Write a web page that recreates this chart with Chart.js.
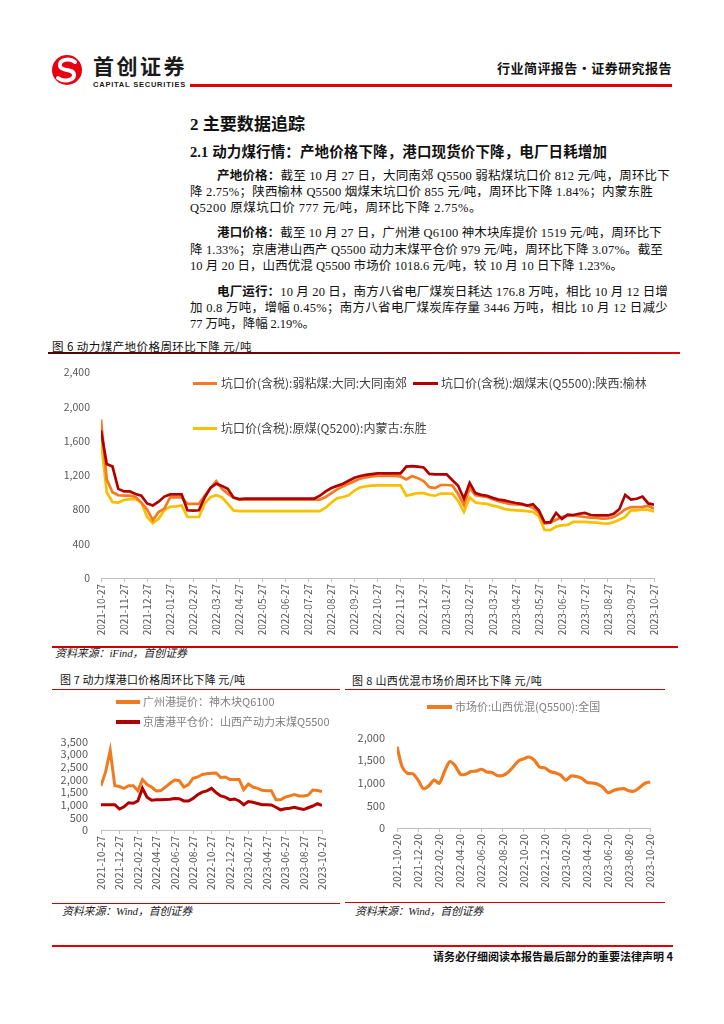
<!DOCTYPE html>
<html>
<head>
<meta charset="utf-8">
<script src="https://cdn.jsdelivr.net/npm/chart.js@4.4.0/dist/chart.umd.min.js"></script>
<style>
  html, body { margin: 0; padding: 0; background: #fff; }
  #page { position: relative; width: 724px; height: 1024px; overflow: hidden;
          font-family: "Liberation Serif", "Noto Sans CJK SC", serif; color: #111; }
  .t { position: absolute; white-space: nowrap; }
  .body { font-size: 12.5px; line-height: 16px; }
  .rule { position: absolute; }
  canvas { position: absolute; }
  .leg { position: absolute; white-space: nowrap; font-family: "Noto Sans CJK SC", sans-serif; }
  .mk { position: absolute; }
  .cap { font-family: "Noto Sans CJK SC", sans-serif; font-size: 11.5px; line-height: 14px; color: #111; }
  .src { font-style: italic; font-size: 11px; line-height: 14px; color: #222; }
</style>
</head>
<body>
<div id="page">

  <!-- header -->
  <svg class="t" style="left:50px;top:54px" width="36" height="32" viewBox="0 0 36 32">
    <circle cx="17" cy="16" r="15" fill="#E60012"/>
    <path d="M25 8 C20 4 9 5 10 12 C11 18 24 14 24 21 C24 27 13 28 8 24" stroke="#fff" stroke-width="4" fill="none" stroke-linecap="round"/>
  </svg>
  <div class="t" style="left:93px;top:53px;font:bold 21px 'Noto Sans CJK SC';line-height:25px;color:#1a1a1a" data-w="94">首创证券</div>
  <div class="t" style="left:93px;top:80px;font:bold 7.5px 'Liberation Sans';line-height:9px;color:#1a1a1a" data-w="93">CAPITAL SECURITIES</div>
  <div class="rule" style="left:190px;top:84px;width:482px;height:2.5px;background:#E00000"></div>
  <div class="t" style="left:497px;top:60px;font:bold 13px 'Noto Sans CJK SC';line-height:16px" data-w="175">行业简评报告·证券研究报告</div>

  <!-- headings -->
  <div class="t" style="left:190px;top:114px;font-weight:bold;font-size:17px;line-height:22px" data-w="115">2 主要数据追踪</div>
  <div class="t" style="left:190px;top:143px;font-weight:bold;font-size:14.5px;line-height:18px" data-w="417">2.1 动力煤行情：产地价格下降，港口现货价下降，电厂日耗增加</div>

  <!-- paragraphs -->
  <div class="t body" style="left:217px;top:168px" data-w="453"><b>产地价格：</b>截至 10 月 27 日，大同南郊 Q5500 弱粘煤坑口价 812 元/吨，周环比下</div>
  <div class="t body" style="left:190px;top:184px" data-w="463">降 2.75%；陕西榆林 Q5500 烟煤末坑口价 855 元/吨，周环比下降 1.84%；内蒙东胜</div>
  <div class="t body" style="left:190px;top:200px" data-w="292">Q5200 原煤坑口价 777 元/吨，周环比下降 2.75%。</div>

  <div class="t body" style="left:217px;top:225px" data-w="445"><b>港口价格：</b>截至 10 月 27 日，广州港 Q6100 神木块库提价 1519 元/吨，周环比下</div>
  <div class="t body" style="left:190px;top:241.5px" data-w="473">降 1.33%；京唐港山西产 Q5500 动力末煤平仓价 979 元/吨，周环比下降 3.07%。截至</div>
  <div class="t body" style="left:190px;top:257.5px" data-w="433">10 月 20 日，山西优混 Q5500 市场价 1018.6 元/吨，较 10 月 10 日下降 1.23%。</div>

  <div class="t body" style="left:217px;top:283.5px" data-w="451"><b>电厂运行：</b>10 月 20 日，南方八省电厂煤炭日耗达 176.8 万吨，相比 10 月 12 日增</div>
  <div class="t body" style="left:190px;top:299.5px" data-w="478">加 0.8 万吨，增幅 0.45%；南方八省电厂煤炭库存量 3446 万吨，相比 10 月 12 日减少</div>
  <div class="t body" style="left:190px;top:315.5px" data-w="125">77 万吨，降幅 2.19%。</div>

  <!-- figure 6 -->
  <div class="t cap" style="left:52px;top:339px" data-w="200">图 6 动力煤产地价格周环比下降 元/吨</div>
  <div class="rule" style="left:48px;top:352px;width:632px;height:1.5px;background:linear-gradient(to right,#4a0808,#8a0000 60%,#e00000)"></div>
  <canvas id="c1" width="630" height="285" style="left:40px;top:355px"></canvas>
  <div class="mk" style="left:193px;top:381.5px;width:24px;height:3px;background:#F47920"></div>
  <div class="leg" style="left:221px;top:375px;font-size:12px;line-height:16px;color:#404040">坑口价(含税):弱粘煤:大同:大同南郊</div>
  <div class="mk" style="left:413px;top:381.5px;width:25px;height:3px;background:#B00000"></div>
  <div class="leg" style="left:441px;top:375px;font-size:12px;line-height:16px;color:#404040">坑口价(含税):烟煤末(Q5500):陕西:榆林</div>
  <div class="mk" style="left:193px;top:426.5px;width:24px;height:3px;background:#F8C000"></div>
  <div class="leg" style="left:221px;top:420px;font-size:12px;line-height:16px;color:#404040">坑口价(含税):原煤(Q5200):内蒙古:东胜</div>
  <div class="rule" style="left:52px;top:646px;width:626px;height:1.5px;background:#D00000"></div>
  <div class="t src" style="left:55px;top:646px" data-w="132">资料来源：iFind，首创证券</div>

  <!-- figure 7 -->
  <div class="t cap" style="left:60px;top:672px;font-size:11px" data-w="185">图 7 动力煤港口价格周环比下降 元/吨</div>
  <div class="rule" style="left:52px;top:689px;width:288px;height:1px;background:#D00000"></div>
  <canvas id="c7" width="287" height="168" style="left:50px;top:722px"></canvas>
  <div class="mk" style="left:116px;top:700px;width:24px;height:3.5px;background:#F07A1F"></div>
  <div class="leg" style="left:143px;top:694px;font-size:11px;line-height:15px;color:#808080">广州港提价：神木块Q6100</div>
  <div class="mk" style="left:116px;top:720px;width:24px;height:3.5px;background:#B00000"></div>
  <div class="leg" style="left:143px;top:714px;font-size:11px;line-height:15px;color:#808080">京唐港平仓价：山西产动力末煤Q5500</div>
  <div class="rule" style="left:52px;top:903px;width:288px;height:1px;background:#D00000"></div>
  <div class="t src" style="left:62px;top:904px" data-w="130">资料来源：Wind，首创证券</div>

  <!-- figure 8 -->
  <div class="t cap" style="left:352px;top:673px;font-size:11px" data-w="190">图 8 山西优混市场价周环比下降 元/吨</div>
  <div class="rule" style="left:345px;top:689px;width:320px;height:1px;background:#D00000"></div>
  <canvas id="c8" width="320" height="169" style="left:345px;top:719px"></canvas>
  <div class="mk" style="left:427px;top:705px;width:25px;height:3.5px;background:#F07A1F"></div>
  <div class="leg" style="left:455px;top:699px;font-size:11px;line-height:15px;color:#808080">市场价:山西优混(Q5500):全国</div>
  <div class="rule" style="left:345px;top:902px;width:320px;height:1px;background:#D00000"></div>
  <div class="t src" style="left:355px;top:904px" data-w="128">资料来源：Wind，首创证券</div>

  <!-- footer -->
  <div class="rule" style="left:52px;top:944.5px;width:621px;height:2.5px;background:#E00000"></div>
  <div class="t" style="left:433px;top:949px;font:bold 11px 'Noto Sans CJK SC';line-height:14px" data-w="240">请务必仔细阅读本报告最后部分的重要法律声明 4</div>
</div>

<script>
// ---- figure 6: quarter-month steps from 2021-10-27 to 2023-10-27
const ticks6 = [
  "2021-10-27", "2021-11-27", "2021-12-27", "2022-01-27", "2022-02-27", "2022-03-27",
  "2022-04-27", "2022-05-27", "2022-06-27", "2022-07-27", "2022-08-27", "2022-09-27",
  "2022-10-27", "2022-11-27", "2022-12-27", "2023-01-27", "2023-02-27", "2023-03-27",
  "2023-04-27", "2023-05-27", "2023-06-27", "2023-07-27", "2023-08-27", "2023-09-27",
  "2023-10-27"
];
// 坑口价(含税):弱粘煤:大同:大同南郊
const datongNanjiao = [
  1850, 1150, 1000, 965, 960, 960, 945, 880,
  800, 675, 770, 810, 940, 940, 940, 865,
  865, 865, 960, 1050, 1130, 1040, 985, 935,
  915, 915, 915, 915, 915, 915, 915, 915,
  915, 915, 915, 915, 915, 915, 915, 945,
  990, 1035, 1070, 1100, 1130, 1160, 1175, 1185,
  1190, 1192, 1192, 1192, 1185, 1150, 1190, 1165,
  1130, 1060, 1050, 1085, 1085, 1080, 980, 850,
  1050, 965, 955, 945, 920, 895, 880, 865,
  860, 855, 846, 820, 760, 635, 645, 680,
  712, 725, 730, 722, 712, 705, 700, 692,
  695, 712, 750, 800, 827, 827, 830, 840,
  812
];
// 坑口价(含税):烟煤末(Q5500):陕西:榆林
const shaanxiYulin = [
  1720, 1330, 1300, 1040, 1010, 1010, 980, 960,
  870, 846, 890, 950, 975, 975, 975, 790,
  785, 790, 940, 1050, 1100, 1075, 1040, 940,
  920, 925, 925, 925, 925, 925, 925, 925,
  925, 925, 925, 925, 925, 925, 960, 1010,
  1050, 1075, 1100, 1135, 1170, 1190, 1204, 1212,
  1220, 1220, 1220, 1222, 1220, 1300, 1305, 1300,
  1290, 1215, 1210, 1210, 1210, 1140, 1077, 925,
  1110, 990, 970, 960, 935, 915, 905, 890,
  875, 865, 846, 860, 790, 650, 650, 760,
  690, 740, 735, 750, 760, 735, 730, 730,
  730, 750, 805, 970, 915, 925, 950, 870,
  855
];
// 坑口价(含税):原煤(Q5200):内蒙古:东胜
const neimengDongsheng = [
  1600, 1000, 885, 880, 910, 920, 920, 880,
  712, 640, 690, 790, 830, 835, 846, 712,
  712, 712, 870, 942, 965, 942, 865, 788,
  780, 780, 780, 780, 780, 780, 780, 780,
  780, 780, 780, 780, 780, 780, 780, 820,
  880, 930, 945, 965, 1020, 1058, 1070, 1077,
  1080, 1080, 1080, 1080, 1080, 960, 975, 990,
  990, 970, 960, 985, 985, 985, 900, 770,
  942, 880, 870, 865, 845, 830, 807, 795,
  790, 785, 780, 770, 720, 560, 558, 600,
  615, 620, 654, 654, 654, 650, 645, 638,
  635, 650, 680, 712, 788, 788, 800, 795,
  777
];

// ---- figure 7: half-month steps
const ticks7 = [
  "2021-10-27", "2021-12-27", "2022-02-27", "2022-04-27", "2022-06-27", "2022-08-27",
  "2022-10-27", "2022-12-27", "2023-02-27", "2023-04-27", "2023-06-27", "2023-08-27",
  "2023-10-27"
];
// 广州港提价：神木块Q6100
const guangzhouPort = [
  1750, 2300, 3150, 1750, 1720, 1650, 1750, 1750,
  1550, 2000, 1800, 1700, 1550, 1560, 1700, 1850,
  1980, 1950, 1700, 1800, 2050, 2100, 2200, 2230,
  2250, 2260, 2080, 2100, 2000, 2000, 2000, 1600,
  1820, 1700, 1650, 1570, 1550, 1550, 1200, 1200,
  1300, 1350, 1400, 1350, 1350, 1380, 1580, 1560,
  1519
];
// 京唐港平仓价：山西产动力末煤Q5500
const jingtangPort = [
  1000, 1000, 1000, 1000, 830, 920, 1080, 1060,
  1150, 1650, 1300, 1180, 1200, 1200, 1210, 1220,
  1250, 1240, 1150, 1150, 1250, 1400, 1500, 1550,
  1650, 1480, 1350, 1300, 1200, 1230, 1150, 1000,
  1130, 1100, 1050, 1000, 1000, 990, 900, 800,
  840, 860, 900, 850, 810, 880, 950, 1040,
  979
];

// ---- figure 8: half-month steps
const ticks8 = [
  "2021-10-20", "2021-12-20", "2022-02-20", "2022-04-20", "2022-06-20", "2022-08-20",
  "2022-10-20", "2022-12-20", "2023-02-20", "2023-04-20", "2023-06-20", "2023-08-20",
  "2023-10-20"
];
// 市场价:山西优混(Q5500):全国
const shanxiMix = [
  1800, 1350, 1210, 1200, 1060, 870, 930, 1060,
  990, 1250, 1470, 1380, 1190, 1190, 1250, 1260,
  1300, 1240, 1230, 1160, 1160, 1230, 1350, 1480,
  1530, 1570, 1500, 1350, 1330, 1250, 1220, 1170,
  1060, 1150, 1140, 1100, 1010, 995, 970, 900,
  780, 830, 860, 870, 820, 820, 900, 990,
  1019
];

const FONT = '"Noto Sans CJK SC", "Noto Sans", sans-serif';
const TICK_COLOR = "#595959";

// x in months since the first date
function toPoints(values, step) {
  return values.map((v, i) => ({ x: i * step, y: v }));
}

function lineSet(values, step, color, width, order, tension) {
  return {
    data: toPoints(values, step),
    borderColor: color,
    borderWidth: width,
    pointRadius: 0,
    tension: tension || 0,
    fill: false,
    order: order
  };
}

function chartOptions(cfg) {
  return {
    responsive: false,
    animation: false,
    events: [],
    layout: { padding: { top: 12, right: cfg.padRight, left: 0, bottom: 0 } },
    plugins: { legend: { display: false }, tooltip: { enabled: false } },
    scales: {
      x: {
        type: "linear",
        min: 0,
        max: cfg.xMax,
        afterBuildTicks: (s) => { s.ticks = cfg.labels.map((_, i) => ({ value: i * cfg.xStep })); },
        afterFit: (s) => { s.height = cfg.xHeight; },
        ticks: {
          autoSkip: false, maxRotation: 90, minRotation: 90, padding: 2,
          color: TICK_COLOR, font: { family: FONT, size: cfg.xFont },
          callback: (v, i) => cfg.labels[i]
        },
        grid: { drawOnChartArea: false, tickLength: 4, color: "#bfbfbf" },
        border: { color: "#bfbfbf" }
      },
      y: {
        min: 0,
        max: cfg.yMax,
        afterFit: (s) => { s.width = cfg.yWidth; },
        ticks: {
          stepSize: cfg.yStep, autoSkip: false, padding: cfg.yPad,
          color: TICK_COLOR, font: { family: FONT, size: cfg.yFont }
        },
        grid: { display: false, drawTicks: false },
        border: { display: false }
      }
    }
  };
}

// Figure 6
new Chart(document.getElementById("c1"), {
  type: "line",
  data: {
    datasets: [
      lineSet(datongNanjiao, 0.25, "#F47920", 2.7, 1),
      lineSet(shaanxiYulin, 0.25, "#B00000", 2.7, 0),
      lineSet(neimengDongsheng, 0.25, "#F8C000", 2.7, 2)
    ]
  },
  options: chartOptions({
    labels: ticks6, xStep: 1, xMax: 24, xHeight: 62, xFont: 10, padRight: 16,
    yMax: 2400, yStep: 400, yWidth: 61, yPad: 11, yFont: 10.5
  })
});

// Figure 7
new Chart(document.getElementById("c7"), {
  type: "line",
  data: {
    datasets: [
      lineSet(guangzhouPort, 0.5, "#F07A1F", 3, 1),
      lineSet(jingtangPort, 0.5, "#B00000", 3, 0)
    ]
  },
  options: chartOptions({
    labels: ticks7, xStep: 2, xMax: 24, xHeight: 60, xFont: 10.5, padRight: 15,
    yMax: 3500, yStep: 500, yWidth: 51, yPad: 13, yFont: 11
  })
});

// Figure 8
new Chart(document.getElementById("c8"), {
  type: "line",
  data: {
    datasets: [
      lineSet(shanxiMix, 0.5, "#F07A1F", 3.2, 0, 0.3)
    ]
  },
  options: chartOptions({
    labels: ticks8, xStep: 2, xMax: 24, xHeight: 60, xFont: 10.5, padRight: 13,
    yMax: 2000, yStep: 500, yWidth: 52, yPad: 12, yFont: 11
  })
});

// stretch text lines to the widths they have in the report
function fitLines() {
  document.querySelectorAll("[data-w]").forEach(el => {
    const target = parseFloat(el.dataset.w);
    el.style.letterSpacing = "0px";
    const natural = el.getBoundingClientRect().width;
    const n = el.textContent.length;
    if (n > 1) el.style.letterSpacing = ((target - natural) / n) + "px";
  });
}
fitLines();
</script>
</body>
</html>
